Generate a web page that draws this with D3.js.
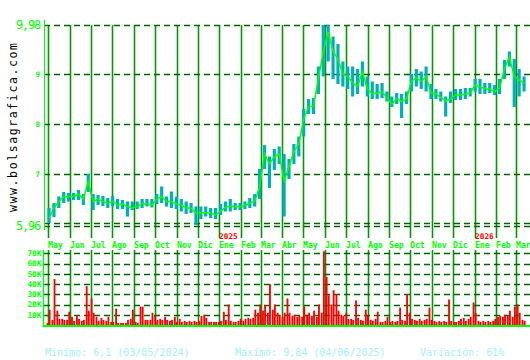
<!DOCTYPE html>
<html>
<head>
<meta charset="utf-8">
<script src="https://cdn.jsdelivr.net/npm/d3@7"></script>
<style>
html,body{margin:0;padding:0;background:#fff;}
svg{display:block;}
</style>
</head>
<body>
<svg id="chart" width="530" height="360"></svg>
<script>
// ---------- DATA (weekly) ----------
const weekStart = new Date(2024, 3, 29);   // first Monday
const weekEnd   = new Date(2026, 2, 16);

const lows = [
  6.02,6.14,6.32,6.42,6.45,6.48,6.48,6.38,6.64,6.28,
  6.38,6.36,6.32,6.35,6.30,6.30,6.15,6.28,6.30,6.32,
  6.35,6.33,6.40,6.42,6.35,6.32,6.30,6.25,6.20,6.22,
  5.98,6.10,6.15,6.12,6.10,6.18,6.25,6.25,6.28,6.28,
  6.30,6.32,6.35,6.50,7.10,6.72,7.08,7.20,6.15,6.90,
  7.20,7.35,7.75,8.20,8.20,8.60,8.95,9.25,8.90,8.80,
  8.75,8.70,8.55,8.60,8.75,8.55,8.50,8.50,8.52,8.45,
  8.34,8.40,8.12,8.40,8.65,8.75,8.70,8.65,8.50,8.50,
  8.45,8.15,8.42,8.48,8.48,8.50,8.55,8.65,8.60,8.60,
  8.62,8.58,8.60,8.90,9.15,8.34,8.55,8.65
];
const highs = [
  6.32,6.42,6.55,6.64,6.62,6.62,6.68,6.60,7.00,6.60,
  6.58,6.56,6.52,6.56,6.50,6.48,6.45,6.45,6.45,6.50,
  6.50,6.50,6.60,6.75,6.55,6.65,6.55,6.50,6.45,6.42,
  6.35,6.35,6.35,6.32,6.32,6.40,6.45,6.50,6.42,6.42,
  6.45,6.52,6.60,7.10,7.58,7.35,7.50,7.55,7.40,7.30,
  7.60,7.75,8.30,8.50,8.52,9.15,9.98,9.98,9.75,9.60,
  9.25,9.15,9.15,9.10,9.25,8.95,8.85,8.80,8.82,8.65,
  8.55,8.62,8.60,8.65,9.00,9.10,9.05,9.15,8.80,8.70,
  8.65,8.55,8.65,8.70,8.70,8.72,8.72,8.90,8.90,8.82,
  8.82,8.78,8.90,9.28,9.45,9.30,9.10,8.95
];
const closes = [
  6.12,6.32,6.45,6.55,6.55,6.55,6.60,6.50,6.85,6.45,
  6.50,6.45,6.42,6.45,6.38,6.40,6.35,6.32,6.35,6.40,
  6.40,6.38,6.50,6.55,6.45,6.45,6.40,6.38,6.32,6.32,
  6.22,6.22,6.23,6.22,6.18,6.25,6.33,6.36,6.35,6.35,
  6.37,6.42,6.45,6.75,7.40,7.20,7.35,7.40,6.85,7.15,
  7.45,7.60,8.10,8.35,8.35,8.90,9.45,9.84,9.45,9.30,
  9.00,8.95,8.82,8.75,9.05,8.70,8.60,8.62,8.65,8.52,
  8.40,8.50,8.45,8.50,8.85,8.92,8.85,8.95,8.62,8.60,
  8.53,8.46,8.50,8.58,8.58,8.60,8.62,8.78,8.75,8.70,
  8.70,8.65,8.72,9.10,9.34,8.95,8.88,8.82
];
// volume in thousands, two readings per week (Mon, Thu)
const volumes = [
  2,15,5,45,14,6,6,5,5,13,
  8,4,9,6,4,5,38,14,26,12,
  8,4,7,5,4,8,3,3,16,2,
  2,2,2,5,6,15,3,2,18,18,
  5,5,5,12,9,5,6,5,8,5,
  4,5,8,3,6,3,4,3,4,3,
  4,3,4,9,10,7,3,3,3,3,
  3,4,13,5,20,4,3,3,4,6,
  4,6,7,6,7,15,12,20,14,19,
  12,40,15,20,12,10,8,12,26,12,
  9,10,8,9,8,18,10,12,9,14,
  8,20,12,72,47,29,20,34,30,14,
  10,9,12,6,6,5,24,7,5,4,
  15,9,5,4,6,13,3,3,4,8,
  3,4,3,4,17,5,4,30,12,6,
  5,4,6,4,5,6,17,5,4,3,
  4,3,4,3,25,4,3,3,4,6,
  7,4,6,8,22,12,4,3,4,3,
  4,3,4,6,8,9,8,10,9,14,
  8,18,20,12,5,4
];
const monthNames = ["Ene","Feb","Mar","Abr","May","Jun","Jul","Ago","Sep","Oct","Nov","Dic"];
const priceTicks = [5.96, 7, 8, 9, 9.98];
const priceTickLabels = ["5,96", "7", "8", "9", "9,98"];
const priceTickBig = [true, false, false, false, true];
const volTicks = [10, 20, 30, 40, 50, 60, 70];
const volTickLabels = ["10K","20K","30K","40K","50K","60K","70K"];
const footer = ["Minimo: 6,1 (03/05/2024)", "Maximo: 9,84 (04/06/2025)", "Variación: 61%"];
const siteName = "www.bolsagrafica.com";

// ---------- BUILD ----------
const weeks = d3.timeMonday.range(weekStart, weekEnd);
const priceData = weeks.map((d, i) => ({date: d, low: lows[i], high: highs[i], close: closes[i]}));
const volDates = [];
weeks.forEach(w => { volDates.push(w); volDates.push(d3.timeDay.offset(w, 3)); });
const volData = volumes.map((v, i) => ({date: volDates[i], vol: v}));
const months = d3.timeMonth.range(new Date(2024, 4, 1), new Date(2026, 3, 1));

const svg = d3.select("#chart");
svg.append("rect").attr("width", 530).attr("height", 360).attr("fill", "#fff");

const L = 44, R = 530;
const x = d3.scaleTime().domain([new Date(2024, 4, 1), new Date(2026, 2, 1)]).range([48, 516]);
const y = d3.scaleLinear().domain([5.96, 9.98]).range([226, 25]);
const yv = d3.scaleLinear().domain([0, 70]).range([325, 253.4]);

const mono = "'DejaVu Sans Mono', 'Liberation Mono', monospace";
const gridDark = "#006400";
const vGreen = "#009a00";
const bright = "#00ff00";

// --- price panel: vertical month lines
const gPrice = svg.append("g");
gPrice.selectAll("line.vm").data(months).join("line")
  .attr("x1", d => Math.round(x(d)) + 0.5).attr("x2", d => Math.round(x(d)) + 0.5)
  .attr("y1", y(9.98)).attr("y2", 238)
  .attr("stroke", vGreen).attr("stroke-width", 1.6);

// horizontal dashed grid
gPrice.selectAll("line.hg").data(priceTicks).join("line")
  .attr("x1", L).attr("x2", R)
  .attr("y1", d => Math.round(y(d)) + 0.5).attr("y2", d => Math.round(y(d)) + 0.5)
  .attr("stroke", gridDark).attr("stroke-width", 1.3).attr("stroke-dasharray", "6,4");
// second line just above the minimum
gPrice.append("line")
  .attr("x1", L).attr("x2", R)
  .attr("y1", Math.round(y(5.96)) - 2.5).attr("y2", Math.round(y(5.96)) - 2.5)
  .attr("stroke", gridDark).attr("stroke-width", 1.3).attr("stroke-dasharray", "6,4");

// high-low bars
gPrice.selectAll("rect.hl").data(priceData).join("rect")
  .attr("x", d => x(d3.timeHour.offset(d.date, 84)) - 1.6)
  .attr("width", 3.2)
  .attr("y", d => y(d.high))
  .attr("height", d => Math.max(1, y(d.low) - y(d.high)))
  .attr("fill", "#00b0b8");

// close line
gPrice.append("path").datum(priceData)
  .attr("d", d3.line().x(d => x(d3.timeHour.offset(d.date, 84))).y(d => y(d.close)))
  .attr("fill", "none").attr("stroke", bright).attr("stroke-width", 1.5);

// left axis line
svg.append("line").attr("x1", L + 0.5).attr("x2", L + 0.5).attr("y1", 20).attr("y2", 230)
  .attr("stroke", bright).attr("stroke-width", 1);

// price tick labels
svg.selectAll("text.pt").data(priceTicks).join("text")
  .attr("x", 40).attr("y", d => y(d))
  .attr("dy", "0.36em")
  .attr("text-anchor", "end")
  .attr("font-family", mono)
  .attr("font-size", (d, i) => priceTickBig[i] ? 12 : 7.5)
  .attr("font-weight", (d, i) => priceTickBig[i] ? "normal" : "bold")
  .attr("letter-spacing", (d, i) => priceTickBig[i] ? -1.2 : 0)
  .attr("fill", bright)
  .text((d, i) => priceTickLabels[i]);

// month labels
svg.selectAll("text.ml").data(months).join("text")
  .attr("x", d => Math.round(x(d)))
  .attr("y", 247.5)
  .attr("font-family", mono).attr("font-size", 8.2).attr("font-weight", "bold")
  .attr("fill", bright)
  .text(d => monthNames[d.getMonth()]);

// year labels
svg.selectAll("text.yl").data(months.filter(d => d.getMonth() === 0)).join("text")
  .attr("x", d => Math.round(x(d)))
  .attr("y", 239)
  .attr("font-family", mono).attr("font-size", 7.8).attr("font-weight", "bold")
  .attr("fill", "#ff0000")
  .text(d => d.getFullYear());

// --- volume panel
const gVol = svg.append("g");
gVol.selectAll("line.vmv").data(months).join("line")
  .attr("x1", d => Math.round(x(d)) + 0.5).attr("x2", d => Math.round(x(d)) + 0.5)
  .attr("y1", 250).attr("y2", 326)
  .attr("stroke", vGreen).attr("stroke-width", 1.6);
gVol.selectAll("line.vg").data(volTicks).join("line")
  .attr("x1", L).attr("x2", R)
  .attr("y1", d => Math.round(yv(d)) + 0.5).attr("y2", d => Math.round(yv(d)) + 0.5)
  .attr("stroke", gridDark).attr("stroke-width", 1.3).attr("stroke-dasharray", "6,4");
gVol.selectAll("rect.vb").data(volData).join("rect")
  .attr("x", d => x(d.date))
  .attr("width", d => Math.max(1, x(d3.timeHour.offset(d.date, 84)) - x(d.date) - 0.6))
  .attr("y", d => yv(d.vol))
  .attr("height", d => yv(0) - yv(d.vol))
  .attr("fill", "#ff0000");
gVol.append("line").attr("x1", L).attr("x2", R).attr("y1", 326).attr("y2", 326)
  .attr("stroke", bright).attr("stroke-width", 2);
gVol.append("line").attr("x1", L - 0.5).attr("x2", L - 0.5).attr("y1", 250).attr("y2", 327)
  .attr("stroke", bright).attr("stroke-width", 1.5);
svg.selectAll("text.vt").data(volTicks).join("text")
  .attr("x", 41.5).attr("y", d => yv(d)).attr("dy", "0.36em")
  .attr("text-anchor", "end")
  .attr("font-family", mono).attr("font-size", 7.8).attr("font-weight", "bold")
  .attr("fill", bright)
  .text((d, i) => volTickLabels[i]);

// watermark
svg.append("text")
  .attr("transform", "translate(17,212) rotate(-90)")
  .attr("font-family", mono).attr("font-size", 11.5)
  .attr("textLength", 169).attr("lengthAdjust", "spacing")
  .attr("fill", "#000")
  .text(siteName);

// footer
const footX = [45, 235, 420];
svg.selectAll("text.ft").data(footer).join("text")
  .attr("x", (d, i) => footX[i]).attr("y", 356)
  .attr("font-family", mono).attr("font-size", 10)
  .attr("fill", "#a0f0ff")
  .text(d => d);
</script>
</body>
</html>
